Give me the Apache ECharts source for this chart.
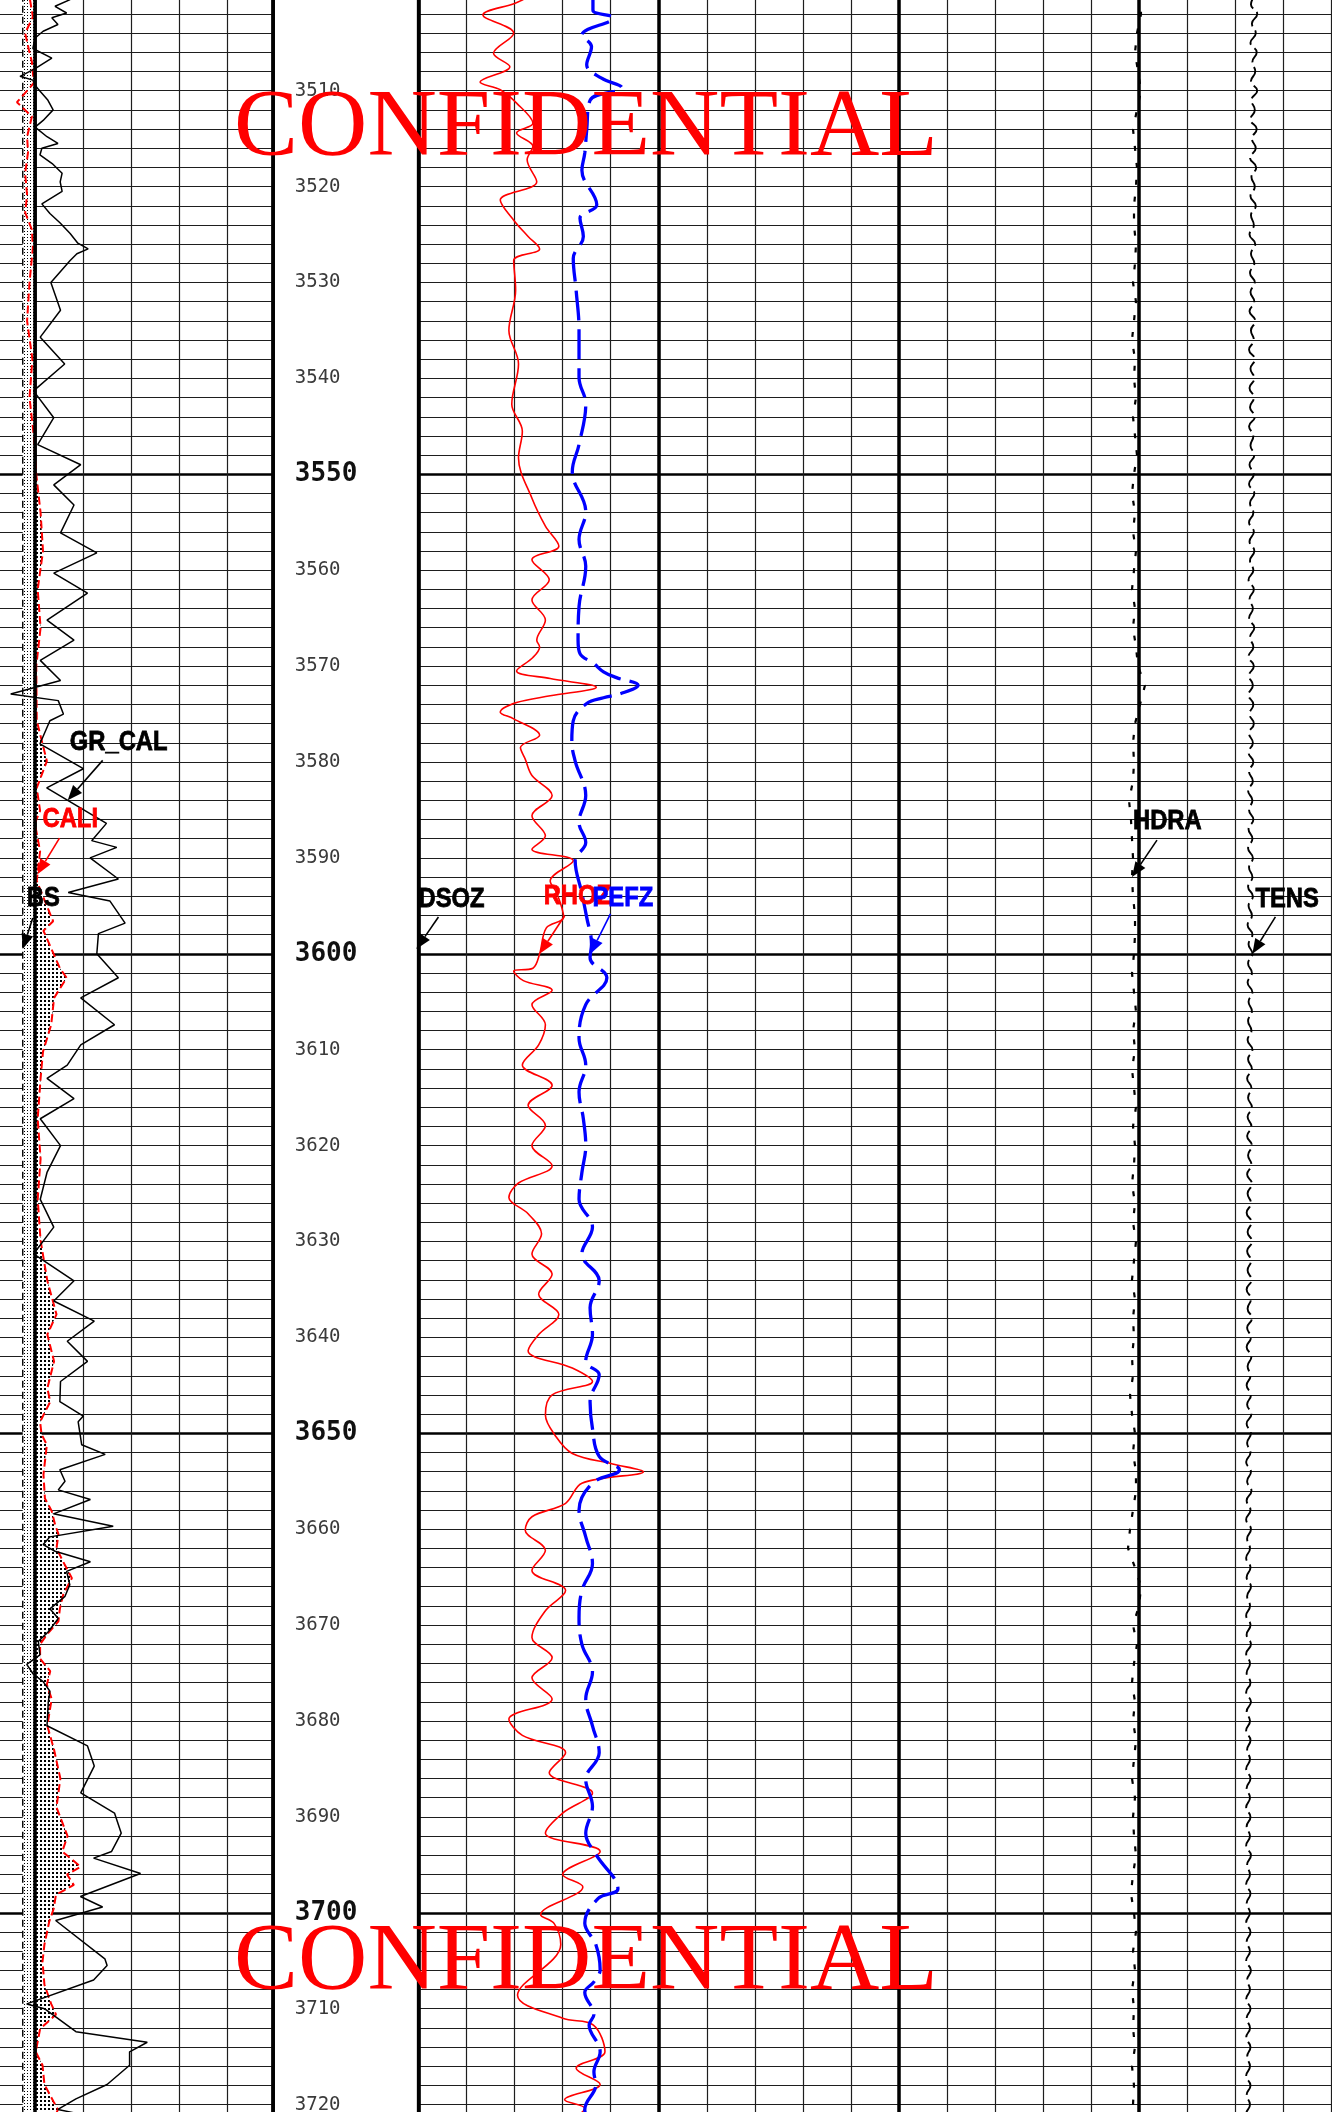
<!DOCTYPE html>
<html>
<head>
<meta charset="utf-8">
<title>Well log 3500-3720</title>
<script src="https://cdn.jsdelivr.net/npm/echarts@6/dist/echarts.min.js"></script>
<style>
html,body{margin:0;padding:0;background:#fff;}
#log_chart{width:1332px;height:2112px;}
</style>
</head>
<body>
<div id="log_chart"></div>
<script>
var depthMin = 3500, depthMax = 3722;
var firstLabelDepth = 3501;

var bitSize = 10.75;   // in, BS
var bandEdge = 11.0;   // in, edge of the light band

// [depth m, gAPI]
var grCal = [[3500.5,86.0],[3501.2,81.3],[3501.9,84.9],[3502.4,80.3],[3503.1,82.2],[3503.8,77.6],[3504.5,75.1],[3505.6,74.4],[3506.6,80.3],[3507.7,75.1],[3508.5,70.4],[3508.9,74.4],[3509.7,75.7],[3511.0,79.1],[3512.0,80.7],[3513.1,77.6],[3513.8,75.1],[3514.8,78.8],[3515.5,82.2],[3516.0,77.2],[3516.7,76.6],[3517.6,80.4],[3518.6,83.5],[3519.5,82.9],[3520.5,83.5],[3521.8,77.2],[3522.8,79.7],[3523.8,82.9],[3524.9,86.0],[3525.9,88.4],[3526.5,91.6],[3527.0,88.1],[3527.7,86.0],[3530.0,80.0],[3532.9,83.0],[3535.7,76.7],[3538.5,84.3],[3541.3,74.6],[3544.1,80.9],[3546.9,75.9],[3549.0,89.3],[3551.1,80.9],[3553.2,87.2],[3556.1,83.0],[3558.2,94.3],[3560.3,80.9],[3562.4,91.4],[3565.2,78.8],[3567.3,87.2],[3569.4,76.7],[3571.5,83.0],[3572.9,67.5],[3573.6,82.3],[3575.0,83.9],[3575.7,79.7],[3578.1,76.6],[3580.7,90.1],[3582.7,78.7],[3586.4,97.3],[3588.2,92.7],[3588.9,100.5],[3590.0,92.2],[3592.2,101.0],[3593.6,85.4],[3594.5,98.4],[3596.8,103.1],[3597.9,94.8],[3600.0,94.3],[3602.5,101.0],[3604.6,89.3],[3607.4,99.8],[3609.5,89.3],[3611.6,85.1],[3613.0,78.8],[3615.1,87.2],[3617.2,76.7],[3620.0,83.0],[3622.8,78.8],[3625.6,76.7],[3628.5,80.9],[3631.3,74.6],[3634.1,87.2],[3636.2,80.9],[3638.3,93.5],[3640.4,85.1],[3642.5,91.4],[3644.6,83.0],[3646.7,82.8],[3648.2,90.1],[3648.8,88.5],[3651.2,89.6],[3652.2,96.9],[3653.8,82.8],[3655.0,84.4],[3655.9,82.3],[3656.9,92.3],[3658.4,80.8],[3659.7,99.4],[3660.8,79.7],[3661.6,77.6],[3662.3,81.3],[3663.4,92.3],[3664.4,84.9],[3665.8,85.9],[3667.0,84.4],[3668.3,79.7],[3669.3,82.3],[3670.7,79.2],[3671.7,76.1],[3673.1,76.6],[3674.1,72.5],[3675.1,74.5],[3675.9,77.6],[3676.9,79.7],[3678.0,79.2],[3680.5,78.8],[3682.6,91.4],[3684.7,93.5],[3687.5,89.3],[3689.6,99.8],[3691.7,101.9],[3693.6,98.9],[3694.3,93.3],[3695.9,107.9],[3698.3,89.2],[3699.4,96.1],[3700.8,81.5],[3704.8,96.8],[3705.5,97.5],[3707.0,93.3],[3709.5,72.5],[3710.0,78.0],[3712.4,87.8],[3713.5,110.0],[3714.5,104.5],[3715.9,104.5],[3717.9,97.5],[3719.4,87.8],[3720.5,82.2],[3721.0,89.1]];

// [depth m, in]
var cali = [[3500.5,10.90],[3502.3,10.96],[3504.0,10.80],[3505.8,10.88],[3507.0,10.94],[3509.2,10.98],[3511.2,10.63],[3512.7,10.94],[3514.8,10.84],[3516.4,10.86],[3518.6,10.80],[3520.9,10.84],[3522.7,10.80],[3524.5,10.94],[3526.4,10.96],[3530.0,10.89],[3534.0,10.84],[3538.0,10.95],[3542.0,10.89],[3546.0,10.98],[3550.0,11.03],[3554.0,11.12],[3558.0,11.17],[3562.0,11.06],[3566.0,11.12],[3570.0,11.03],[3575.7,11.04],[3579.9,11.25],[3582.7,11.04],[3585.1,11.11],[3586.4,11.00],[3589.3,11.11],[3592.4,11.04],[3596.6,11.38],[3597.6,11.18],[3601.5,11.52],[3602.5,11.66],[3604.6,11.40],[3607.4,11.34],[3610.2,11.17],[3613.0,11.12],[3617.2,11.06],[3621.4,11.12],[3625.6,11.06],[3629.9,11.12],[3634.1,11.26],[3637.6,11.45],[3639.7,11.26],[3642.5,11.40],[3645.3,11.26],[3646.7,11.32],[3648.8,11.11],[3650.1,11.14],[3651.2,11.25],[3654.3,11.18],[3656.8,11.21],[3658.1,11.35],[3659.5,11.42],[3660.5,11.49],[3662.0,11.45],[3663.4,11.59],[3665.1,11.77],[3666.8,11.59],[3668.3,11.52],[3669.6,11.49],[3671.0,11.25],[3672.0,11.11],[3673.5,11.11],[3674.8,11.32],[3676.2,11.25],[3677.7,11.35],[3680.5,11.26],[3683.0,11.40],[3686.0,11.53],[3689.0,11.45],[3692.0,11.68],[3693.6,11.57],[3695.2,11.95],[3696.0,11.67],[3697.1,11.81],[3698.1,11.44],[3699.6,11.39],[3700.9,11.30],[3703.3,11.20],[3705.1,11.16],[3707.5,11.20],[3709.5,11.34],[3710.6,11.44],[3712.1,11.11],[3714.5,11.02],[3715.9,11.16],[3717.9,11.20],[3719.7,11.39],[3720.5,11.48],[3721.5,11.40]];

// [depth m, g/cc]
var rhoz = [[3500.5,2.059],[3500.9,2.050],[3502.1,2.017],[3504.0,2.049],[3506.1,2.028],[3507.5,2.045],[3509.1,2.014],[3509.9,2.035],[3511.3,2.052],[3513.4,2.069],[3514.4,2.052],[3515.8,2.069],[3517.2,2.063],[3519.5,2.073],[3521.4,2.035],[3523.5,2.049],[3525.2,2.064],[3526.5,2.076],[3527.7,2.049],[3530.8,2.051],[3535.0,2.044],[3538.5,2.054],[3542.7,2.047],[3545.5,2.058],[3548.3,2.054],[3552.5,2.068],[3555.4,2.082],[3557.5,2.096],[3558.9,2.068],[3561.0,2.086],[3563.1,2.068],[3565.2,2.082],[3567.3,2.073],[3568.0,2.076],[3569.1,2.069],[3570.5,2.052],[3571.3,2.087],[3572.2,2.135],[3573.1,2.087],[3573.8,2.052],[3574.8,2.035],[3575.5,2.049],[3577.2,2.076],[3578.5,2.056],[3579.7,2.061],[3581.4,2.068],[3583.5,2.089],[3585.6,2.068],[3587.7,2.082],[3589.1,2.068],[3590.3,2.111],[3592.4,2.087],[3593.7,2.094],[3596.2,2.101],[3597.3,2.083],[3600.0,2.076],[3601.5,2.069],[3601.8,2.049],[3602.8,2.059],[3603.8,2.089],[3605.3,2.068],[3607.4,2.082],[3609.5,2.075],[3611.6,2.058],[3613.7,2.089],[3615.8,2.064],[3617.9,2.082],[3620.0,2.068],[3622.1,2.089],[3623.9,2.054],[3625.4,2.044],[3627.1,2.064],[3629.2,2.078],[3631.3,2.068],[3633.4,2.089],[3635.5,2.075],[3637.6,2.096],[3639.7,2.075],[3641.4,2.064],[3643.2,2.110],[3644.6,2.131],[3646.0,2.089],[3648.1,2.082],[3650.2,2.092],[3652.1,2.110],[3653.2,2.152],[3654.0,2.184],[3655.2,2.120],[3657.3,2.103],[3658.7,2.068],[3660.1,2.061],[3662.2,2.082],[3664.3,2.068],[3666.4,2.103],[3668.5,2.082],[3671.3,2.068],[3673.4,2.089],[3675.5,2.068],[3677.7,2.089],[3679.8,2.044],[3681.5,2.058],[3683.3,2.103],[3685.4,2.086],[3687.5,2.131],[3689.6,2.100],[3691.7,2.082],[3693.6,2.139],[3696.0,2.100],[3697.3,2.121],[3700.2,2.077],[3701.1,2.091],[3703.3,2.098],[3708.6,2.053],[3711.0,2.100],[3711.7,2.132],[3714.5,2.144],[3716.2,2.114],[3717.9,2.139],[3719.5,2.102],[3720.4,2.123],[3721.5,2.110]];

// [depth m, b/e]
var pefz = [[3500.5,3.63],[3501.6,3.63],[3502.4,4.05],[3504.2,3.40],[3505.4,3.60],[3507.3,3.50],[3508.7,3.81],[3509.7,4.23],[3511.0,3.57],[3514.1,3.50],[3516.5,3.46],[3518.3,3.40],[3521.9,3.71],[3523.3,3.36],[3525.2,3.43],[3527.5,3.22],[3530.8,3.28],[3535.0,3.34],[3539.9,3.34],[3542.7,3.48],[3546.9,3.34],[3549.7,3.20],[3553.9,3.48],[3556.8,3.34],[3559.6,3.48],[3563.8,3.34],[3567.3,3.32],[3568.7,3.36],[3569.7,3.64],[3570.6,3.85],[3571.2,4.12],[3572.0,4.57],[3572.9,4.19],[3573.3,3.85],[3573.9,3.50],[3575.7,3.22],[3577.8,3.19],[3579.9,3.26],[3583.5,3.48],[3586.3,3.34],[3588.4,3.48],[3590.3,3.26],[3593.7,3.40],[3596.2,3.50],[3599.0,3.60],[3600.4,3.57],[3602.5,3.92],[3605.3,3.48],[3608.8,3.34],[3611.6,3.48],[3614.4,3.34],[3617.2,3.43],[3620.0,3.48],[3622.8,3.40],[3625.6,3.34],[3628.5,3.62],[3631.3,3.40],[3634.1,3.76],[3636.9,3.57],[3639.7,3.62],[3642.5,3.48],[3643.9,3.76],[3646.7,3.57],[3649.5,3.62],[3652.4,3.76],[3653.8,4.18],[3655.2,3.62],[3658.0,3.34],[3660.8,3.48],[3663.6,3.62],[3666.4,3.40],[3669.2,3.34],[3672.0,3.40],[3674.9,3.62],[3677.7,3.48],[3680.5,3.62],[3683.3,3.76],[3686.1,3.48],[3688.9,3.62],[3691.7,3.48],[3693.9,3.69],[3697.5,4.15],[3698.5,3.74],[3701.1,3.46],[3703.3,3.69],[3705.9,3.78],[3707.2,3.65],[3708.3,3.46],[3710.6,3.65],[3711.7,3.55],[3714.5,3.78],[3716.6,3.65],[3717.9,3.69],[3720.5,3.46],[3721.5,3.50]];

// regularly sampled curves, first sample at depthMin
var dsozStep = 2; // in
var dsoz = [-0.003,-0.008,-0.002,-0.010,-0.004,-0.003,-0.009,-0.002,-0.006,-0.011,
-0.003,-0.002,-0.008,-0.004,-0.010,-0.003,-0.002,-0.009,-0.005,-0.003,
-0.011,-0.004,-0.002,-0.008,-0.003,-0.010,-0.004,-0.002,-0.009,-0.003,
-0.006,-0.011,-0.003,-0.002,-0.009,-0.004,-0.003,-0.010,-0.002,-0.007,
-0.003,-0.011,-0.004,-0.002,-0.008,-0.003,-0.010,-0.002,-0.004,-0.009,
-0.003,-0.002,-0.010,-0.004,-0.003,-0.008,-0.002,-0.011,-0.003,-0.005,
-0.009,-0.002,-0.004,-0.010,-0.003,-0.002,-0.008,-0.004,-0.011,-0.003,
-0.002,-0.009,-0.004,-0.003,-0.010,-0.002,-0.006,-0.009,-0.003,-0.002,
-0.011,-0.004,-0.003,-0.008,-0.002,-0.010,-0.004,-0.003,-0.009,-0.002,
-0.005,-0.011,-0.003,-0.002,-0.009,-0.004,-0.003,-0.010,-0.002,-0.008,
-0.003,-0.010,-0.004,-0.002,-0.009,-0.003,-0.002,-0.004,-0.016,-0.003,
-0.002,-0.004];

var hdraStep = 2; // g/cc
var hdra = [0.0020,0.0041,-0.0043,-0.0084,-0.0022,0.0041,-0.0043,-0.0126,-0.0084,-0.0043,
-0.0064,-0.0105,-0.0105,-0.0064,-0.0084,-0.0126,-0.0064,-0.0105,-0.0147,-0.0084,
-0.0105,-0.0064,-0.0126,-0.0084,-0.0043,-0.0105,-0.0147,-0.0084,-0.0126,-0.0064,
-0.0105,-0.0147,-0.0084,-0.0126,-0.0064,-0.0022,0.0124,0.0020,-0.0084,-0.0126,
-0.0105,-0.0126,-0.0209,-0.0168,-0.0147,-0.0126,-0.0147,-0.0126,-0.0084,-0.0084,
-0.0105,-0.0147,-0.0105,-0.0064,-0.0126,-0.0084,-0.0147,-0.0105,-0.0064,-0.0126,
-0.0084,-0.0105,-0.0147,-0.0084,-0.0126,-0.0064,-0.0105,-0.0147,-0.0084,-0.0126,
-0.0105,-0.0147,-0.0126,-0.0188,-0.0147,-0.0084,-0.0126,-0.0064,-0.0064,-0.0126,
-0.0188,-0.0230,-0.0084,0.0041,0.0000,-0.0126,-0.0043,-0.0105,-0.0147,-0.0084,
-0.0126,-0.0064,-0.0105,-0.0147,-0.0084,-0.0126,-0.0105,-0.0064,-0.0126,-0.0168,
-0.0105,-0.0064,-0.0126,-0.0084,-0.0147,-0.0105,-0.0126,-0.0084,-0.0147,-0.0105,
-0.0126,-0.0105];

var tensStep = 1; // lbf
var tens = [17440,17330,17460,17350,17430,17320,17450,17360,17420,17330,
17460,17340,17410,17320,17450,17350,17430,17310,17440,17340,
17410,17320,17430,17330,17390,17300,17420,17330,17400,17310,
17410,17320,17400,17300,17420,17330,17390,17290,17410,17320,
17400,17300,17390,17310,17410,17290,17380,17320,17400,17300,
17390,17290,17400,17310,17380,17290,17390,17300,17400,17310,
17380,17280,17390,17300,17370,17290,17400,17310,17380,17280,
17390,17290,17370,17280,17380,17300,17390,17290,17370,17280,
17380,17290,17370,17270,17360,17290,17380,17280,17360,17270,
17370,17290,17360,17270,17370,17280,17350,17260,17360,17280,
17360,17270,17350,17260,17360,17280,17350,17270,17340,17260,
17360,17270,17350,17250,17340,17270,17350,17260,17340,17250,
17350,17270,17340,17250,17350,17260,17330,17240,17340,17260,
17350,17250,17330,17260,17340,17240,17330,17260,17350,17250,
17330,17240,17340,17260,17320,17240,17330,17250,17340,17240,
17330,17250,17320,17230,17330,17250,17340,17240,17320,17230,
17330,17250,17310,17230,17320,17240,17330,17250,17310,17230,
17320,17240,17330,17230,17310,17240,17320,17230,17330,17240,
17310,17230,17320,17250,17310,17230,17320,17240,17310,17230,
17320,17240,17310,17230,17330,17250,17310,17230,17320,17240,
17310,17230,17320,17240,17310,17230,17330,17250,17310,17230,
17320,17240,17310,17230,17320,17250,17310,17230,17320,17240,
17310,17230,17320];

// layout
var TOP = -5.2, PX_PER_M = 9.59;
var H = (depthMax - depthMin) * PX_PER_M;
var t1Divs = 9.946; // visible part of track 1, in divisions

var thinLine = {color: '#1e1e1e', width: 1.2};
var heavyH = {color: '#000', width: 2.7};
var heavyV = {color: '#000', width: 3.5};

function xy(pairs) {
    return pairs.map(function (p) { return [p[1], p[0]]; });
}
function sampled(vals, step) {
    return vals.map(function (v, i) { return [v, depthMin + i * step]; });
}
function gridAxis(gridIndex, max, interval, style) {
    return {type: 'value', gridIndex: gridIndex, min: 0, max: max, interval: interval,
        axisLine: {show: false}, axisTick: {show: false}, axisLabel: {show: false},
        splitLine: {show: true, lineStyle: style}};
}
function depthAxis(gridIndex, interval, style) {
    return {type: 'value', gridIndex: gridIndex, min: depthMin, max: depthMax, inverse: true, interval: interval,
        axisLine: {show: false}, axisTick: {show: false}, axisLabel: {show: false},
        splitLine: {show: true, lineStyle: style}};
}
function curveAxis(gridIndex, min, max) {
    return {type: 'value', gridIndex: gridIndex, min: min, max: max, show: false};
}
function dotPattern(size, dot, color) {
    var c = document.createElement('canvas');
    c.width = size; c.height = size;
    var ctx = c.getContext('2d');
    ctx.fillStyle = '#fff';
    ctx.fillRect(0, 0, size, size);
    ctx.fillStyle = color;
    ctx.fillRect(0, 0, dot, dot);
    return {image: c, repeat: 'repeat'};
}
function valueAt(data, depth) {
    for (var i = 1; i < data.length; i++) {
        if (data[i][1] >= depth) {
            var a = data[i - 1], b = data[i];
            var t = (depth - a[1]) / (b[1] - a[1]);
            return a[0] + t * (b[0] - a[0]);
        }
    }
    return data[data.length - 1][0];
}

var grData = xy(grCal), caliData = xy(cali), rhozData = xy(rhoz), pefzData = xy(pefz);
var dsozData = sampled(dsoz, dsozStep), hdraData = sampled(hdra, hdraStep), tensData = sampled(tens, tensStep);
var bsData = [[bitSize, depthMin], [bitSize, depthMax]];

var lightDots = dotPattern(3, 1, '#000');
var denseDots = dotPattern(4, 2, '#000');

function curve(name, xAxisIndex, yAxisIndex, data, color, width, dash, smooth) {
    return {name: name, type: 'line', xAxisIndex: xAxisIndex, yAxisIndex: yAxisIndex, data: data,
        showSymbol: false, symbol: 'none', smooth: smooth || false, silent: true, animation: false,
        lineStyle: {color: color, width: width, type: dash || 'solid'}};
}

var logChart = echarts.init(document.getElementById('log_chart'));
var option = {
    animation: false,
    backgroundColor: '#fff',
    grid: [
        {left: -206.2, top: TOP, width: 48.2 * t1Divs, height: H, show: true, borderColor: '#000', borderWidth: 3.5, backgroundColor: 'transparent', containLabel: false, outerBoundsMode: 'none'},
        {left: 418.6, top: TOP, width: 960.6, height: H, show: true, borderColor: '#000', borderWidth: 3.5, backgroundColor: 'transparent', containLabel: false, outerBoundsMode: 'none'},
        {left: 275.8, top: TOP, width: 142.8, height: H, show: false, containLabel: false, outerBoundsMode: 'none'}
    ],
    xAxis: [
        gridAxis(0, t1Divs, 1, thinLine),       // 0
        gridAxis(0, t1Divs, 5, heavyV),         // 1
        curveAxis(0, 0, 15 * t1Divs),           // 2 GR_CAL gAPI
        curveAxis(0, 6, 6 + t1Divs),            // 3 CALI / BS in
        gridAxis(1, 20, 1, thinLine),           // 4
        gridAxis(1, 20, 5, heavyV),             // 5
        curveAxis(1, 1.95, 2.95),               // 6 RHOZ
        curveAxis(1, 0, 20),                    // 7 PEFZ
        curveAxis(1, 0, 2),                     // 8 DSOZ
        curveAxis(1, -1.5, 0.5),                // 9 HDRA
        curveAxis(1, 0, 20000),                 // 10 TENS
        curveAxis(2, 0, 1)                      // 11
    ],
    yAxis: [
        depthAxis(0, 2, thinLine),
        depthAxis(0, 50, heavyH),
        depthAxis(1, 2, thinLine),
        depthAxis(1, 50, heavyH),
        {type: 'value', gridIndex: 2, min: depthMin, max: depthMax, inverse: true, interval: 10,
            axisLine: {show: false}, axisTick: {show: false}, splitLine: {show: false},
            axisLabel: {show: true, inside: true, margin: 19,
                formatter: function (v) {
                    if (v < firstLabelDepth || v % 10 !== 0) return '';
                    return v % 50 === 0 ? '{b|' + v + '}' : '{n|' + v + '}';
                },
                rich: {
                    n: {fontFamily: 'DejaVu Sans Mono', fontSize: 19, color: '#3a3a3a'},
                    b: {fontFamily: 'DejaVu Sans Mono', fontSize: 26, fontWeight: 'bold', color: '#111'}
                }
            }
        }
    ],
    series: [
        {type: 'custom', name: 'band', xAxisIndex: 3, yAxisIndex: 0, data: [[bandEdge, depthMin]], silent: true,
            renderItem: function (params, api) {
                var pts = [[bitSize, depthMin], [bitSize, depthMax], [bandEdge, depthMax], [bandEdge, depthMin]].map(api.coord);
                return {type: 'polygon', shape: {points: pts}, style: {fill: lightDots}};
            }},
        {type: 'custom', name: 'washout', xAxisIndex: 3, yAxisIndex: 0, data: [[bandEdge, depthMin]], silent: true,
            renderItem: function (params, api) {
                var pts = caliData.map(function (p) { return api.coord([Math.max(p[0], bandEdge), p[1]]); });
                pts.push(api.coord([bandEdge, caliData[caliData.length - 1][1]]));
                pts.push(api.coord([bandEdge, caliData[0][1]]));
                return {type: 'polygon', shape: {points: pts}, style: {fill: denseDots}};
            }},
        (function () {
            var s = curve('BS', 3, 0, bsData, '#000', 1.4, [7, 4]);
            s.markLine = {silent: true, symbol: ['none', 'none'], animation: false, label: {show: false},
                lineStyle: {color: '#000', width: 3.5, type: 'solid'}, data: [{xAxis: bandEdge}]};
            return s;
        })(),
        curve('CALI', 3, 0, caliData, '#ff0000', 2, [8, 4]),
        curve('GR_CAL', 2, 0, grData, '#000', 1.5),
        (function () {
            var s = curve('DSOZ', 8, 2, dsozData, '#000', 1.5);
            s.clip = false;
            return s;
        })(),
        curve('RHOZ', 6, 2, rhozData, '#ff0000', 1.6, 'solid', 0.35),
        curve('PEFZ', 7, 2, pefzData, '#0000ff', 3.3, [30, 9], 0.4),
        curve('HDRA', 9, 2, hdraData, '#000', 2.2, [5, 12]),
        curve('TENS', 10, 2, tensData, '#000', 1.9, [16, 5], 0.5)
    ]
};
logChart.setOption(option);

// curve labels with arrows pointing at the curve
var curveLabels = [
    {text: 'GR_CAL', color: '#000', series: 4, data: grData, depth: 3584, arrow: [35, -40], pos: [2, -58]},
    {text: 'CALI', color: '#ff0000', series: 3, data: caliData, depth: 3591.7, arrow: [22, -36], pos: [5, -55]},
    {text: 'BS', color: '#000', series: 2, data: bsData, depth: 3599.5, arrow: [10, -31], pos: [4, -51]},
    {text: 'DSOZ', color: '#000', series: 5, data: dsozData, depth: 3599.5, arrow: [22, -32], pos: [2, -50]},
    {text: 'RHOZ', color: '#ff0000', series: 6, data: rhozData, depth: 3600, arrow: [25, -38], pos: [4, -58]},
    {text: 'PEFZ', color: '#0000ff', series: 7, data: pefzData, depth: 3600, arrow: [20, -40], pos: [2, -56]},
    {text: 'HDRA', color: '#000', series: 8, data: hdraData, depth: 3592, arrow: [25, -37], pos: [1, -56]},
    {text: 'TENS', color: '#000', series: 9, data: tensData, depth: 3600, arrow: [23, -37], pos: [3, -55]}
];

var graphics = [];
curveLabels.forEach(function (c) {
    var tip = logChart.convertToPixel({seriesIndex: c.series}, [valueAt(c.data, c.depth), c.depth]);
    var sx = tip[0] + c.arrow[0], sy = tip[1] + c.arrow[1];
    var dx = tip[0] - sx, dy = tip[1] - sy, len = Math.sqrt(dx * dx + dy * dy);
    var ux = dx / len, uy = dy / len, hl = 15, hw = 6;
    var bx = tip[0] - ux * hl, by = tip[1] - uy * hl;
    graphics.push({type: 'line', silent: true, z: 50, shape: {x1: sx, y1: sy, x2: bx, y2: by},
        style: {stroke: c.color, lineWidth: 1.6}});
    graphics.push({type: 'polygon', silent: true, z: 50,
        shape: {points: [[tip[0], tip[1]], [bx - uy * hw, by + ux * hw], [bx + uy * hw, by - ux * hw]]},
        style: {fill: c.color}});
    graphics.push({type: 'text', silent: true, z: 51, x: tip[0] + c.pos[0], y: tip[1] + c.pos[1], scaleX: 0.85,
        style: {text: c.text, fill: c.color, stroke: c.color, lineWidth: 0.8,
            font: 'bold 28px "Liberation Sans", Arial, sans-serif', align: 'left', verticalAlign: 'middle'}});
});

// watermark
[130, 1964].forEach(function (y) {
    graphics.push({type: 'text', silent: true, z: 100, x: 586, y: y,
        style: {text: 'CONFIDENTIAL', fill: '#ff0000', font: '96px "Liberation Serif", "Times New Roman", serif',
            align: 'center', verticalAlign: 'middle'}});
});

logChart.setOption({graphic: graphics});
</script>
</body>
</html>
